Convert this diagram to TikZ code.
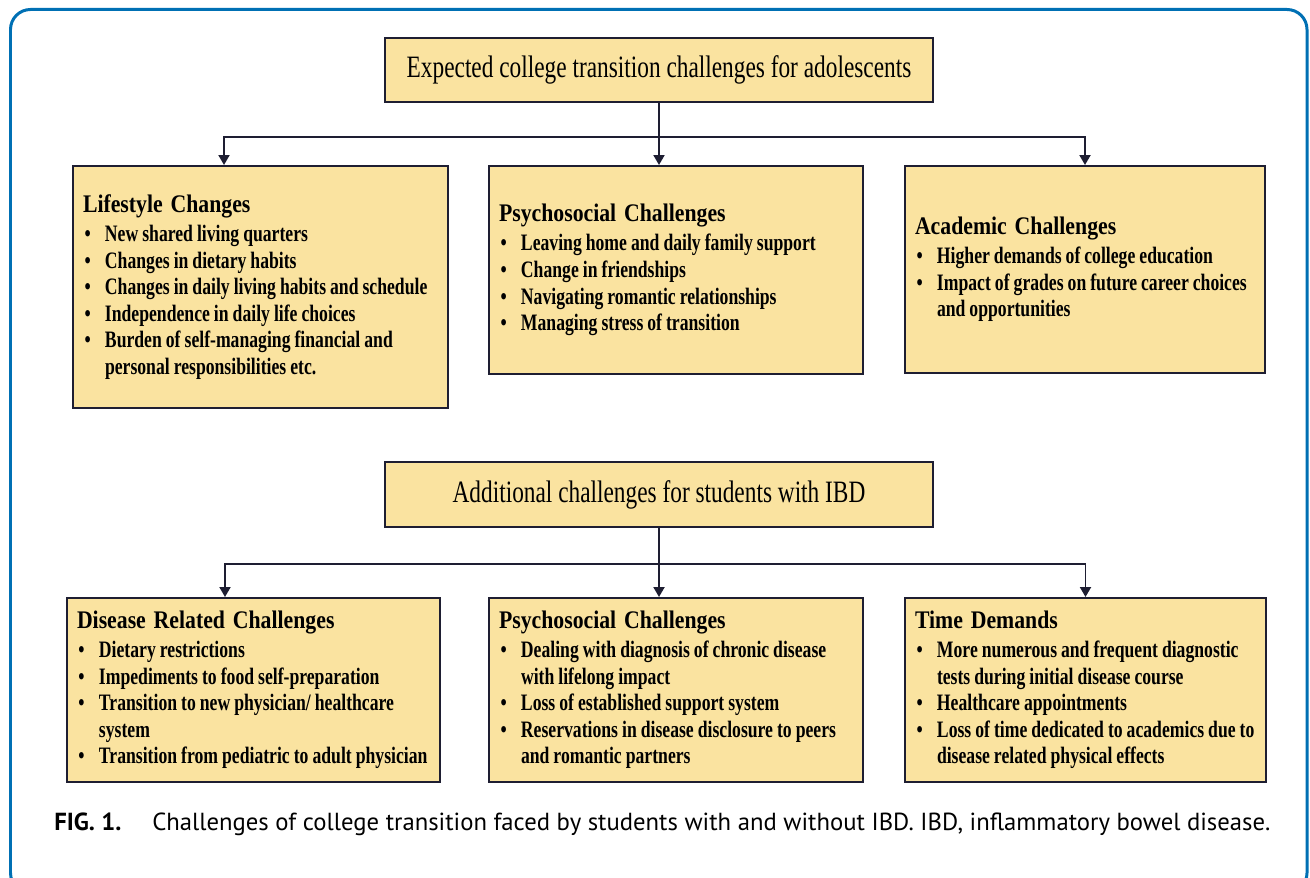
\documentclass[tikz,border=0pt]{standalone}
\usepackage{fontspec}
\setmainfont{Liberation Serif}[FakeStretch=0.75]
\newfontfamily\titlefont{Liberation Serif}[FakeStretch=0.86]
\newfontfamily\capfont{PT Sans}
\usepackage{tikz}
\usetikzlibrary{arrows.meta}

\definecolor{boxfill}{RGB}{250,227,160}
\definecolor{boxline}{RGB}{30,30,50}
\definecolor{frameblue}{RGB}{0,112,180}

\hyphenpenalty=10000
\newcommand{\boxtitle}[1]{{\titlefont\bfseries\fontsize{14.4}{17}\selectfont #1\par}\vskip 1.5pt}
\newcommand{\bul}[1]{\par\noindent\hangindent=0.44cm\hangafter=1\spaceskip=0.17em plus 0.05em\rightskip=0pt plus 1fil minus 2cm\relax
    \makebox[0.44cm][l]{\hspace{0.03cm}\textbullet}#1\par}

\tikzset{
    >={Triangle[length=0.2cm,width=0.22cm]},
    head/.style={draw=boxline, line width=1.1pt, fill=boxfill, minimum width=10.96cm, minimum height=1.29cm, font=\fontsize{17.7}{19}\selectfont},
    item/.style={draw=boxline, line width=1.1pt, fill=boxfill, inner xsep=0.2cm, align=left, font=\fontsize{13.4}{15.1}\selectfont\bfseries},
    link/.style={line width=1.1pt, draw=boxline}
}

\begin{document}
\begin{tikzpicture}
        \useasboundingbox (0,0) rectangle (26.2,17.56);
        \draw[frameblue, line width=1.7pt, rounded corners=0.4cm] (0.21,-0.3) rectangle (26.14,17.37);

        % expected challenges
        \node[head] (head1) at (13.18,16.16) {Expected college transition challenges for adolescents};
        \node[item, text width=7.1cm, minimum height=4.84cm] (life) at (5.21,11.82) {\boxtitle{Lifestyle Changes}
            \bul{New shared living quarters}
            \bul{Changes in dietary habits}
            \bul{Changes in daily living habits and schedule}
            \bul{Independence in daily life choices}
            \bul{Burden of self-managing financial and\newline personal responsibilities etc.}};
        \node[item, text width=7.08cm, minimum height=4.16cm] (psy1) at (13.52,12.16) {\boxtitle{Psychosocial Challenges}
            \bul{Leaving home and daily family support}
            \bul{Change in friendships}
            \bul{Navigating romantic relationships}
            \bul{Managing stress of transition}};
        \node[item, text width=6.8cm, minimum height=4.14cm] (acad) at (21.70,12.17) {\boxtitle{Academic Challenges}
            \bul{Higher demands of college education}
            \bul{Impact of grades on future career choices\newline and opportunities}};

        \coordinate (bus1) at (13.18,14.82);
        \draw[link] (head1.south) -- (bus1);
        \draw[link,->] (bus1) -- (bus1 |- psy1.north);
        \draw[link,->] (bus1) -| ([xshift=-0.73cm]life.north);
        \draw[link,->] (bus1) -| (acad.north);

        % additional challenges with IBD
        \node[head] (head2) at (13.18,7.67) {Additional challenges for students with IBD};
        \node[item, text width=7.06cm, minimum height=3.68cm] (dis) at (5.07,3.76) {\boxtitle{Disease Related Challenges}
            \bul{Dietary restrictions}
            \bul{Impediments to food self-preparation}
            \bul{Transition to new physician/ healthcare\newline system}
            \bul{Transition from pediatric to adult physician}};
        \node[item, text width=7.08cm, minimum height=3.68cm] (psy2) at (13.52,3.76) {\boxtitle{Psychosocial Challenges}
            \bul{Dealing with diagnosis of chronic disease\newline with lifelong impact}
            \bul{Loss of established support system}
            \bul{Reservations in disease disclosure to peers\newline and romantic partners}};
        \node[item, text width=6.82cm, minimum height=3.68cm] (time) at (21.71,3.76) {\boxtitle{Time Demands}
            \bul{More numerous and frequent diagnostic\newline tests during initial disease course}
            \bul{Healthcare appointments}
            \bul{Loss of time dedicated to academics due to\newline disease related physical effects}};

        \coordinate (bus2) at (13.18,6.28);
        \draw[link] (head2.south) -- (bus2);
        \draw[link,->] (bus2) -- (bus2 |- psy2.north);
        \draw[link,->] (bus2) -| ([xshift=-0.57cm]dis.north);
        \draw[link,->] (bus2) -| (time.north);

        \node[anchor=base west, inner sep=0pt, font=\capfont\fontsize{14.05}{17}\selectfont] (cap) at (1.08,0.94)
            {\textbf{FIG. 1.}\hspace{0.62cm}Challenges of college transition faced by students with and without IBD. IBD, inflammatory bowel disease.};
    \end{tikzpicture}
\end{document}
